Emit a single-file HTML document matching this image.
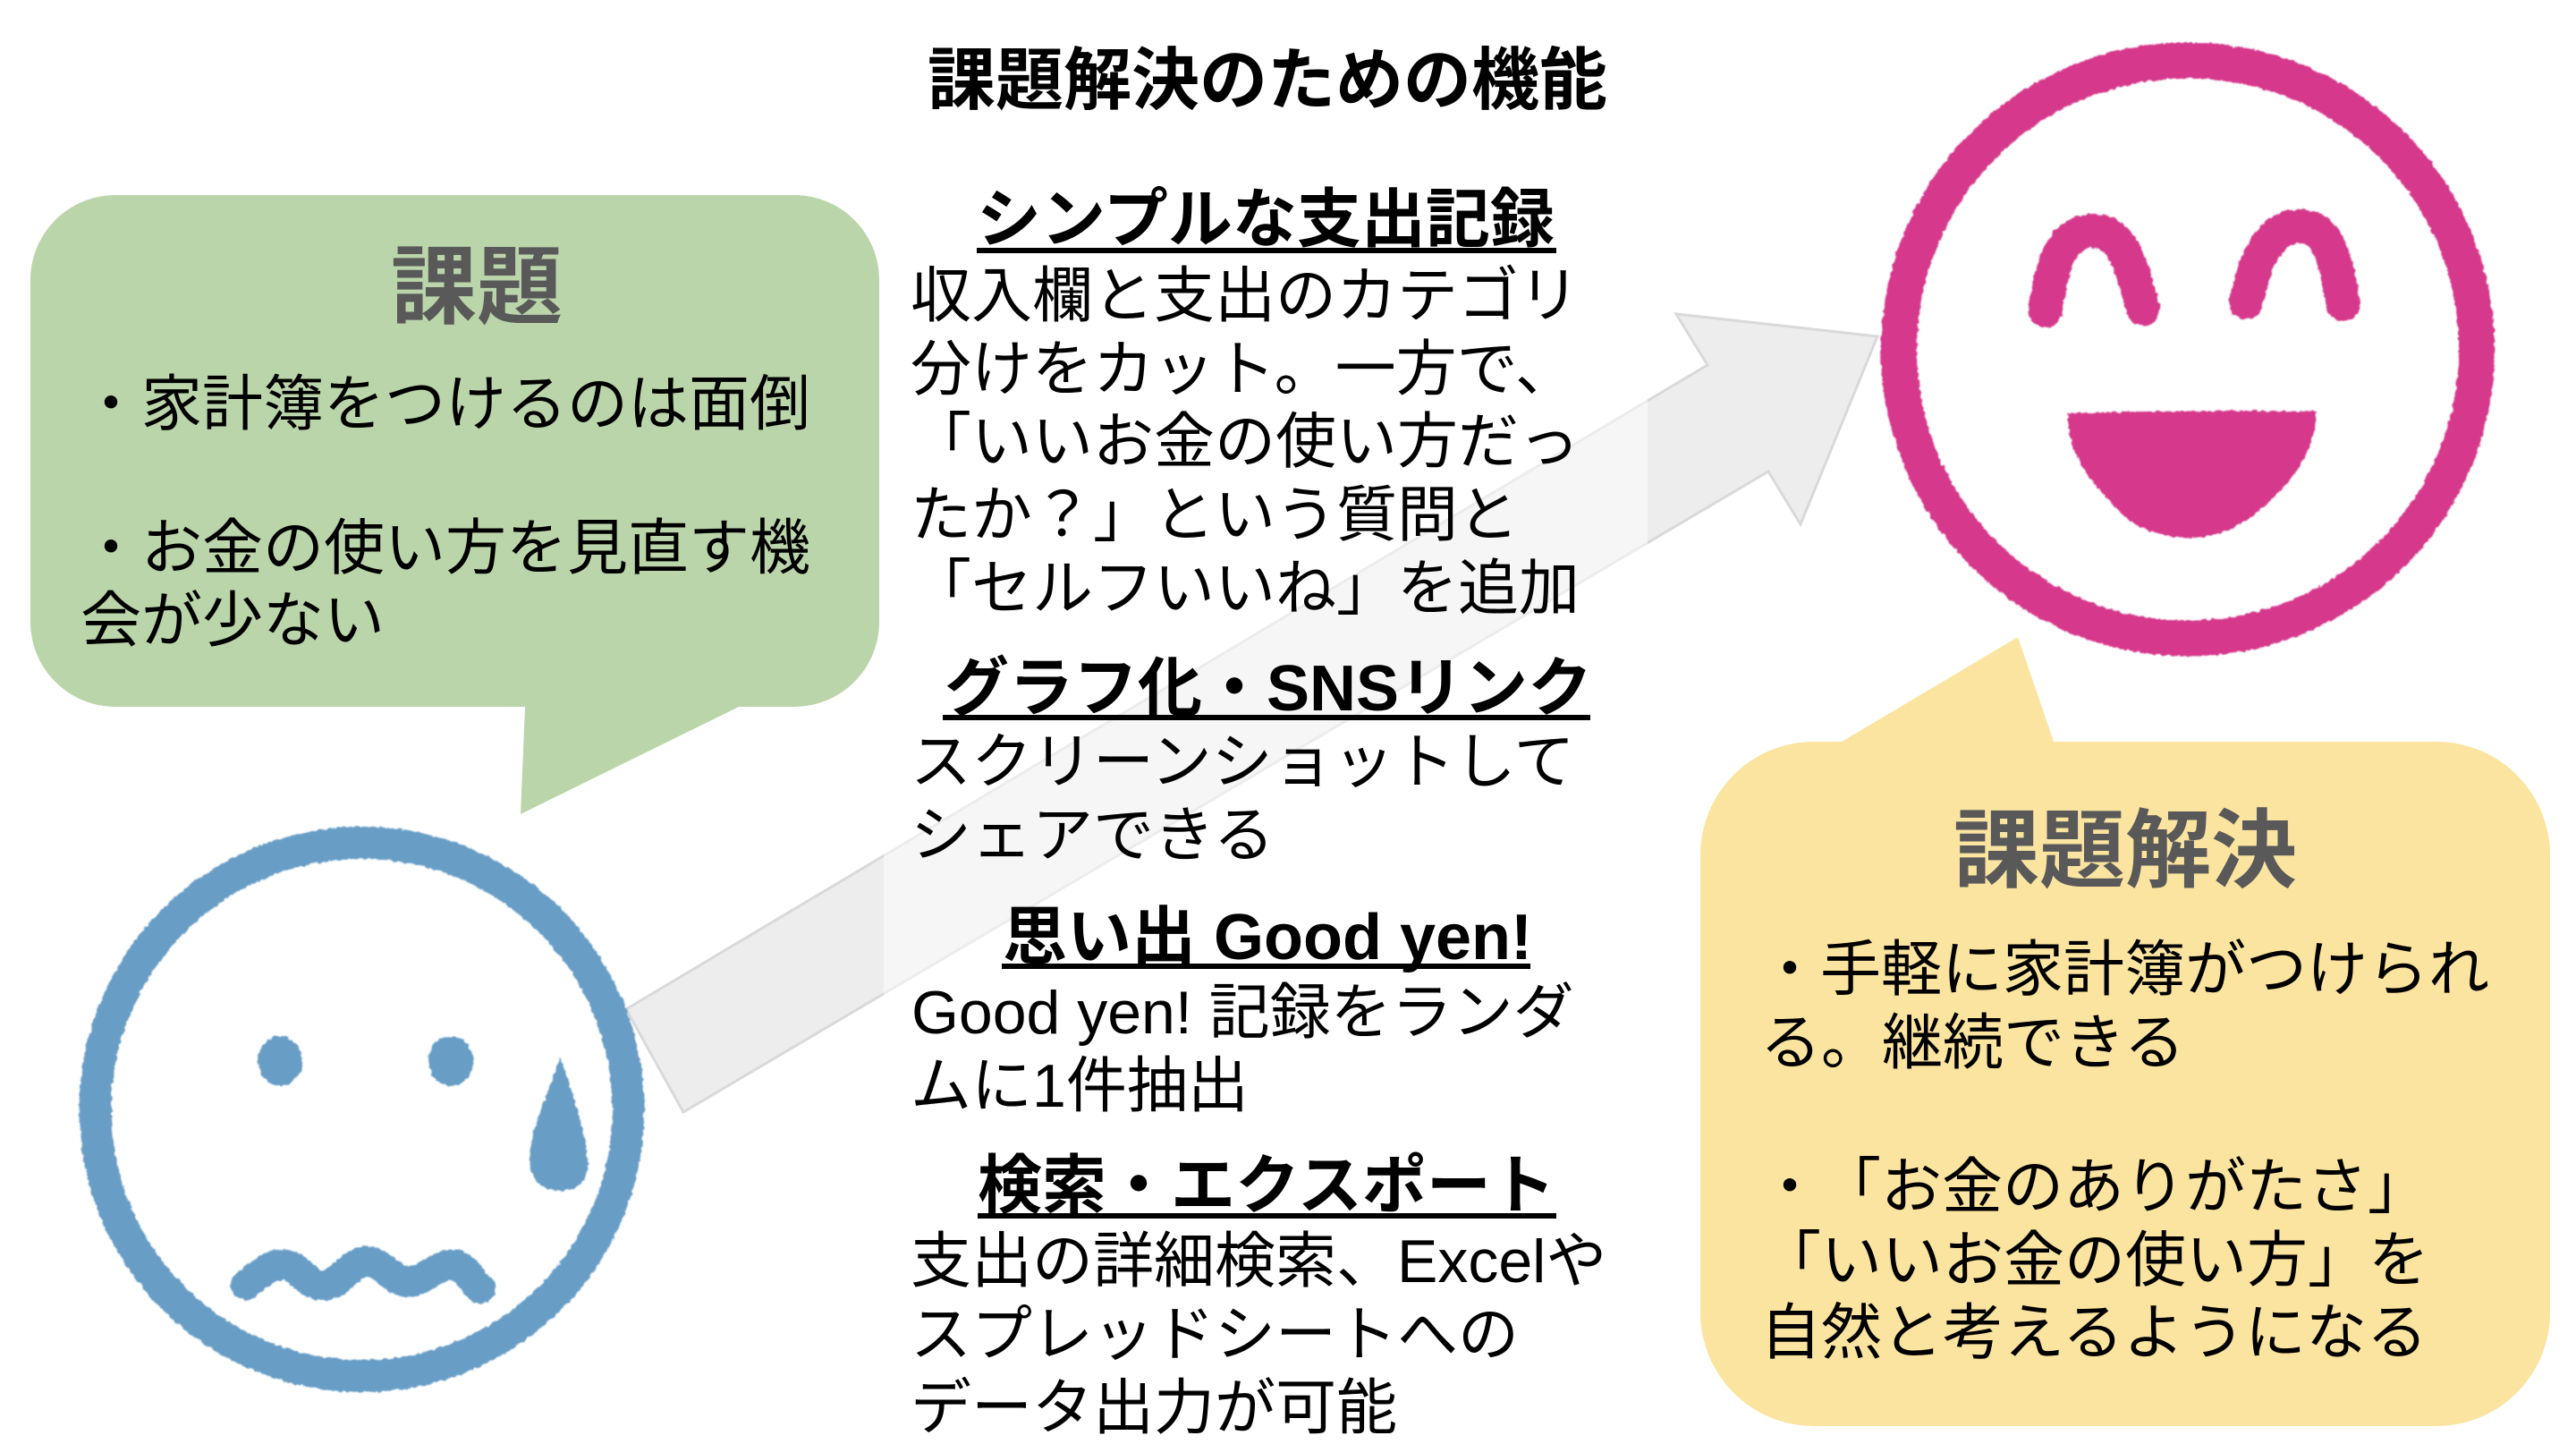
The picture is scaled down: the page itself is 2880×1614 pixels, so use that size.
<!DOCTYPE html>
<html lang="ja"><head><meta charset="utf-8"><title>課題解決のための機能</title>
<style>
html,body{margin:0;padding:0;background:#fff;width:2880px;height:1614px;overflow:hidden}
svg{display:block}
text{font-family:"Liberation Sans","Noto Sans CJK JP",sans-serif;font-size:68px;fill:#000;text-spacing-trim:space-all}
.h{font-weight:700;font-size:72px}
.t{font-weight:700;font-size:76px}
.b{font-weight:700;font-size:96px;fill:#595959}
</style></head><body>
<svg width="2880" height="1614" viewBox="0 0 2880 1614" xmlns="http://www.w3.org/2000/svg">
<defs>
<filter id="r" x="-5%" y="-5%" width="110%" height="110%">
<feTurbulence type="fractalNoise" baseFrequency="0.18" numOctaves="2" seed="4"/>
<feDisplacementMap in="SourceGraphic" scale="5" xChannelSelector="R" yChannelSelector="G"/>
<feGaussianBlur stdDeviation="0.8"/>
</filter>
</defs>
<rect width="2880" height="1614" fill="#fff"/>

<!-- arrow -->
<polygon points="700,1128 1909,408 1874,351 2099,376 2013,586 1977,527 764,1243" fill="#ededed" stroke="#d9d9d9" stroke-width="3" stroke-linejoin="miter"/>
<rect x="988" y="180" width="854" height="1100" fill="#fff" fill-opacity="0.5"/>

<!-- green bubble -->
<path d="M129,218H888A95,95 0 0 1 983,313V695A95,95 0 0 1 888,790H826L582,910L587,790H129A95,95 0 0 1 34,695V313A95,95 0 0 1 129,218Z" fill="#bbd5ab"/>
<text class="b" x="437" y="354">課題</text>
<text x="90" y="475">・家計簿をつけるのは面倒</text>
<text x="90" y="636">・お金の使い方を見直す機</text>
<text x="90" y="717">会が少ない</text>

<!-- yellow bubble -->
<path d="M2028,829H2059L2256,712L2296,829H2724A127,127 0 0 1 2851,956V1467A127,127 0 0 1 2724,1594H2028A127,127 0 0 1 1901,1467V956A127,127 0 0 1 2028,829Z" fill="#fbe4a0"/>
<text class="b" x="2184" y="984">課題解決</text>
<text x="1967" y="1107">・手軽に家計簿がつけられ</text>
<text x="1968" y="1189">る。継続できる</text>
<text x="1967" y="1350">・「お金のありがたさ」</text>
<text x="1968" y="1432">「いいお金の使い方」を</text>
<text x="1968" y="1513">自然と考えるようになる</text>

<!-- blue face -->
<g filter="url(#r)" fill="#679dc6">
<circle cx="404.500" cy="1240" r="298" fill="none" stroke="#679dc6" stroke-width="36"/>
<ellipse cx="313" cy="1186" rx="25" ry="28"/>
<ellipse cx="504" cy="1186" rx="25" ry="28"/>
<path d="M626,1181C636,1210 657,1270 657,1300C657,1322 645,1331 626,1331C604,1331 592,1318 592,1295C592,1265 616,1215 626,1181Z"/>
<path d="M275,1436C295,1420 305,1412 320,1414C335,1416 345,1438 362,1437C382,1435 392,1410 410,1410C428,1410 440,1433 457,1433C475,1431 490,1412 508,1414C520,1416 528,1432 537,1440" fill="none" stroke="#679dc6" stroke-width="34" stroke-linecap="round" stroke-linejoin="round"/>
</g>

<!-- pink face -->
<g filter="url(#r)" fill="#d6388b">
<circle cx="2446" cy="390.500" r="323" fill="none" stroke="#d6388b" stroke-width="40"/>
<path d="M2287,347C2292,310 2300,258 2340,258C2378,258 2385,310 2396,345" fill="none" stroke="#d6388b" stroke-width="38" stroke-linecap="round"/>
<path d="M2511,338C2520,300 2532,253 2572,253C2608,253 2612,300 2620,340" fill="none" stroke="#d6388b" stroke-width="38" stroke-linecap="round"/>
<path d="M2312,462C2400,459 2500,459 2590,460C2588,510 2560,540 2530,567C2505,590 2475,601 2447,601C2415,601 2385,590 2365,567C2335,535 2312,510 2312,462Z"/>
</g>

<!-- middle column -->
<text class="t" x="1037" y="116">課題解決のための機能</text>

<text class="h" x="1092" y="270">シンプルな支出記録</text>
<rect x="1092" y="277" width="648" height="6"/>
<text x="1018" y="354">収入欄と支出のカテゴリ</text>
<text x="1018" y="436">分けをカット。一方で、</text>
<text x="1018" y="517">「いいお金の使い方だっ</text>
<text x="1018" y="599">たか？」という質問と</text>
<text x="1018" y="681">「セルフいいね」を追加</text>

<text class="h" x="1056" y="794">グラフ化・SNSリンク</text>
<rect x="1054" y="799" width="724" height="6"/>
<text x="1018" y="875">スクリーンショットして</text>
<text x="1018" y="957">シェアできる</text>

<text class="h" x="1121" y="1072">思い出 Good yen!</text>
<rect x="1120" y="1077" width="591" height="6"/>
<text x="1019" y="1155">Good yen! 記録をランダ</text>
<text x="1018" y="1237">ムに1件抽出</text>

<text class="h" x="1093" y="1350">検索・エクスポート</text>
<rect x="1093" y="1356" width="647" height="6"/>
<text x="1018" y="1433">支出の詳細検索、Excelや</text>
<text x="1018" y="1515">スプレッドシートへの</text>
<text x="1018" y="1597">データ出力が可能</text>
</svg>
</body></html>
